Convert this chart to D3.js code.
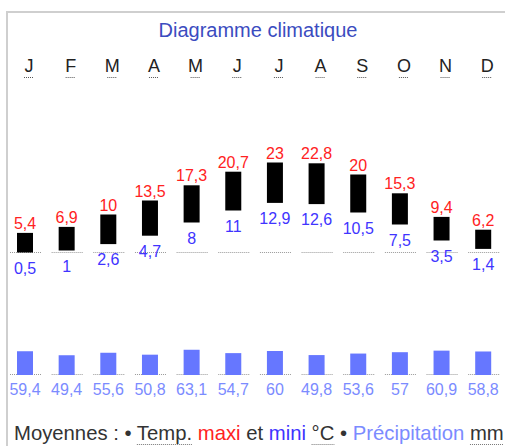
<!DOCTYPE html>
<html><head><meta charset="utf-8">
<script src="https://cdn.jsdelivr.net/npm/d3@7"></script>
<style>body{margin:0;background:#fff;} svg{display:block;font-family:"Liberation Sans",Arial,sans-serif;}</style>
</head><body>
<svg id="c" width="505" height="446"></svg>
<script>
const months = ["J","F","M","A","M","J","J","A","S","O","N","D"];
const tMax = [5.4, 6.9, 10, 13.5, 17.3, 20.7, 23, 22.8, 20, 15.3, 9.4, 6.2];
const tMin = [0.5, 1, 2.6, 4.7, 8, 11, 12.9, 12.6, 10.5, 7.5, 3.5, 1.4];
const precip = [59.4, 49.4, 55.6, 50.8, 63.1, 54.7, 60, 49.8, 53.6, 57, 60.9, 58.8];
const title = "Diagramme climatique";

const fmt = v => String(v).replace(".", ",");
const svg = d3.select("#c");
const idx = d3.range(months.length);
const x = d3.scalePoint().domain(idx).range([25, 483.2]);
const yT = d3.scaleLinear().domain([0, 23]).range([254.5, 162.5]);
const yP = d3.scaleLinear().domain([0, 60]).range([375, 351]);
const bw = 16;

// frame
svg.append("path").attr("d","M7,446V12H505").attr("fill","none").attr("stroke","#cfcfcf").attr("stroke-width",2);

svg.append("text").attr("x",258).attr("y",37).attr("text-anchor","middle")
  .attr("font-size",20).attr("fill","#3b4cbf").text(title);

// month letters
const ml = svg.append("g").selectAll("g").data(idx).join("g");
ml.append("text").attr("x", i => x(i)+4).attr("y",72).attr("text-anchor","middle")
  .attr("font-size",18).attr("fill","#222").text(i => months[i]);
ml.append("line").attr("x1", i => x(i)-1).attr("x2", i => x(i)+9).attr("y1",77.5).attr("y2",77.5)
  .attr("stroke","#555").attr("stroke-dasharray","1,1");

// temperature baseline dotted
svg.append("g").selectAll("line").data(idx).join("line")
  .attr("x1", i => x(i)-15).attr("x2", i => x(i)+17).attr("y1",252.5).attr("y2",252.5)
  .attr("stroke","#999").attr("stroke-dasharray","1,1");

// temp bars
svg.append("g").selectAll("rect").data(idx).join("rect")
  .attr("x", i => x(i)-bw/2).attr("width", bw)
  .attr("y", i => yT(tMax[i])).attr("height", i => yT(tMin[i]) - yT(tMax[i]))
  .attr("fill","#000");

svg.append("g").selectAll("text").data(idx).join("text")
  .attr("x", i => x(i)).attr("y", i => yT(tMax[i]) - 4).attr("text-anchor","middle")
  .attr("font-size",16).attr("fill","#ff2222").text(i => fmt(tMax[i]));
svg.append("g").selectAll("text").data(idx).join("text")
  .attr("x", i => x(i)).attr("y", i => yT(tMin[i]) + 21).attr("text-anchor","middle")
  .attr("font-size",16).attr("fill","#4034ff").text(i => fmt(tMin[i]));

// precip baseline dotted
svg.append("g").selectAll("line").data(idx).join("line")
  .attr("x1", i => x(i)-15).attr("x2", i => x(i)+17).attr("y1",374.5).attr("y2",374.5)
  .attr("stroke","#999").attr("stroke-dasharray","1,1");

svg.append("g").selectAll("rect").data(idx).join("rect")
  .attr("x", i => x(i)-bw/2).attr("width", bw)
  .attr("y", i => yP(precip[i])).attr("height", i => yP(0) - yP(precip[i]))
  .attr("fill","#6677ff");

svg.append("g").selectAll("text").data(idx).join("text")
  .attr("x", i => x(i)).attr("y", 395).attr("text-anchor","middle")
  .attr("font-size",16).attr("fill","#7b8bff").text(i => fmt(precip[i]));

// legend
const lg = svg.append("text").attr("x",14).attr("y",440).attr("font-size",20.3).attr("fill","#333");
lg.append("tspan").text("Moyennes : • ");
lg.append("tspan").attr("id","tTemp").text("Temp.");
lg.append("tspan").text(" ");
lg.append("tspan").attr("fill","#ff2222").text("maxi");
lg.append("tspan").text(" et ");
lg.append("tspan").attr("fill","#4034ff").text("mini");
lg.append("tspan").text(" ");
lg.append("tspan").attr("id","tDeg").text("°C");
lg.append("tspan").text(" • ");
lg.append("tspan").attr("fill","#7b8bff").text("Précipitation");
lg.append("tspan").text(" ");
lg.append("tspan").attr("id","tMm").text("mm");

["tTemp","tDeg","tMm"].forEach(id => {
  const node = document.getElementById(id);
  const n = node.getNumberOfChars();
  if (!n) return;
  const s = node.getStartPositionOfChar(0).x;
  const e = node.getEndPositionOfChar(n-1).x;
  svg.append("line").attr("x1", s).attr("x2", Math.min(e,505)).attr("y1",444.5).attr("y2",444.5)
    .attr("stroke","#777").attr("stroke-dasharray","1,1");
});
</script>
</body></html>
